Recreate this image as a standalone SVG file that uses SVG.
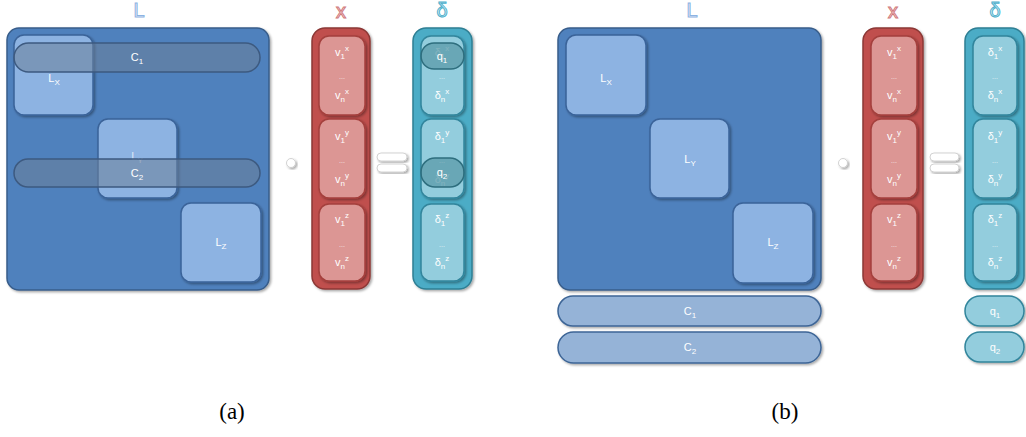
<svg xmlns="http://www.w3.org/2000/svg" width="1026" height="437" viewBox="0 0 1026 437">
<defs>
<filter id="sh" x="-20%" y="-20%" width="140%" height="140%"><feDropShadow dx="1.5" dy="1.5" stdDeviation="1" flood-color="#000" flood-opacity="0.35"/></filter>
<style>
.big{fill:#4f81bd;stroke:#385d8a;stroke-width:1.5;filter:url(#sh)}
.lb{fill:#8db3e2;stroke:#3a6399;stroke-width:1.5;filter:url(#sh)}
.cov{fill:#6b7f99;fill-opacity:0.55;stroke:#3d5a80;stroke-width:1.5}
.cb{fill:#95b3d7;stroke:#3d6596;stroke-width:1.5;filter:url(#sh)}
.rout{fill:#c0504d;stroke:#8c3836;stroke-width:1.5;filter:url(#sh)}
.rin{fill:#dc9694;stroke:#a43f3c;stroke-width:1.5;filter:url(#sh)}
.bout{fill:#4bacc6;stroke:#2f7f94;stroke-width:1.5;filter:url(#sh)}
.bin{fill:#93cddd;stroke:#31859c;stroke-width:1.5;filter:url(#sh)}
.qov{fill:#4d8d9c;fill-opacity:0.6;stroke:#2e6e7e;stroke-width:1.5}
.qb{fill:#93cddd;stroke:#31859c;stroke-width:1.5;filter:url(#sh)}
.t{font-family:"Liberation Sans",Arial,sans-serif;font-size:11px;fill:#ffffff;text-anchor:middle}
.s{font-size:8px}
.d{font-family:"Liberation Sans",Arial,sans-serif;font-size:7px;fill:#ffffff;fill-opacity:0.8;text-anchor:middle}
.ttl{font-family:"Liberation Sans",Arial,sans-serif;font-size:20px;stroke-width:1;text-anchor:middle}
.op{fill:#ffffff;stroke:#c8c8c8;stroke-width:0.8;filter:url(#sh)}
.cap{font-family:"Liberation Serif","Times New Roman",serif;font-size:23px;fill:#000;text-anchor:middle}
</style>
</defs>
<rect width="1026" height="437" fill="#ffffff"/>

<!-- Panel (a) -->
<g id="a-titles">
<text class="ttl" x="139" y="17" fill="#eaf1fa" stroke="#8db3e2">L</text>
<text class="ttl" x="341" y="18" fill="#fbeeee" stroke="#d0787a">x</text>
<text class="ttl" x="442" y="17" fill="#e8f6fa" stroke="#4fb0cc">δ</text>
</g>
<g id="a-L">
<rect class="big" x="7" y="28" width="262" height="262" rx="12"/>
<rect class="lb" x="14" y="35" width="79" height="80" rx="10"/>
<rect class="lb" x="98" y="119" width="79" height="79" rx="10"/>
<rect class="lb" x="181" y="203" width="80" height="79" rx="10"/>
<text class="t" x="54" y="82">L<tspan class="s" dy="3">X</tspan></text>
<text class="t" x="137" y="160" fill-opacity="0.7">L<tspan class="s" dy="3">Y</tspan></text>
<text class="t" x="221" y="246">L<tspan class="s" dy="3">Z</tspan></text>
</g>
<g id="a-C1">
<rect class="cov" x="14" y="43" width="246" height="29" rx="14.5"/>
<text class="t" x="137" y="61">C<tspan class="s" dy="3">1</tspan></text>
</g>
<g id="a-C2">
<rect class="cov" x="14" y="159" width="246" height="28" rx="14"/>
<text class="t" x="137" y="177">C<tspan class="s" dy="3">2</tspan></text>
</g>
<g id="a-dot"><circle class="op" cx="291" cy="163" r="4.5"/></g>
<g id="a-x">
<rect class="rout" x="312" y="28" width="58" height="261" rx="13"/>
<rect class="rin" x="319" y="36" width="46" height="79" rx="10"/>
<rect class="rin" x="319" y="119" width="46" height="79" rx="10"/>
<rect class="rin" x="319" y="204" width="46" height="77" rx="10"/>
<text class="t" x="342" y="56">v<tspan class="s" dy="3">1</tspan><tspan class="s" dy="-8">x</tspan></text>
<text class="d" x="342" y="79">...</text>
<text class="t" x="342" y="99">v<tspan class="s" dy="3">n</tspan><tspan class="s" dy="-8">x</tspan></text>
<text class="t" x="342" y="140">v<tspan class="s" dy="3">1</tspan><tspan class="s" dy="-8">y</tspan></text>
<text class="d" x="342" y="163">...</text>
<text class="t" x="342" y="183">v<tspan class="s" dy="3">n</tspan><tspan class="s" dy="-8">y</tspan></text>
<text class="t" x="342" y="223">v<tspan class="s" dy="3">1</tspan><tspan class="s" dy="-8">z</tspan></text>
<text class="d" x="342" y="247">...</text>
<text class="t" x="342" y="266">v<tspan class="s" dy="3">n</tspan><tspan class="s" dy="-8">z</tspan></text>
</g>
<g id="a-eq">
<rect class="op" x="377" y="153" width="30" height="8" rx="4"/>
<rect class="op" x="377" y="164" width="30" height="8" rx="4"/>
</g>
<g id="a-delta">
<rect class="bout" x="413" y="28" width="59" height="261" rx="13"/>
<rect class="bin" x="421" y="36" width="43" height="79" rx="10"/>
<rect class="bin" x="421" y="119" width="43" height="79" rx="10"/>
<rect class="bin" x="421" y="204" width="43" height="77" rx="10"/>
<text class="t" x="442" y="56" fill-opacity="0.6">δ<tspan class="s" dy="3">1</tspan><tspan class="s" dy="-8">x</tspan></text>
<text class="d" x="442" y="79">...</text>
<text class="t" x="442" y="99">δ<tspan class="s" dy="3">n</tspan><tspan class="s" dy="-8">x</tspan></text>
<text class="t" x="442" y="140">δ<tspan class="s" dy="3">1</tspan><tspan class="s" dy="-8">y</tspan></text>
<text class="d" x="442" y="163">...</text>
<text class="t" x="442" y="183" fill-opacity="0.6">δ<tspan class="s" dy="3">n</tspan><tspan class="s" dy="-8">y</tspan></text>
<text class="t" x="442" y="223">δ<tspan class="s" dy="3">1</tspan><tspan class="s" dy="-8">z</tspan></text>
<text class="d" x="442" y="247">...</text>
<text class="t" x="442" y="266">δ<tspan class="s" dy="3">n</tspan><tspan class="s" dy="-8">z</tspan></text>
</g>
<g id="a-q1">
<rect class="qov" x="421" y="43" width="43" height="26" rx="13"/>
<text class="t" x="442" y="60">q<tspan class="s" dy="3">1</tspan></text>
</g>
<g id="a-q2">
<rect class="qov" x="421" y="158" width="43" height="29" rx="14"/>
<text class="t" x="442" y="176">q<tspan class="s" dy="3">2</tspan></text>
</g>

<!-- Panel (b) -->
<g id="b-titles">
<text class="ttl" x="692" y="17" fill="#eaf1fa" stroke="#8db3e2">L</text>
<text class="ttl" x="893" y="18" fill="#fbeeee" stroke="#d0787a">x</text>
<text class="ttl" x="995" y="17" fill="#e8f6fa" stroke="#4fb0cc">δ</text>
</g>
<g id="b-L">
<rect class="big" x="558" y="28" width="263" height="262" rx="12"/>
<rect class="lb" x="566" y="35" width="80" height="80" rx="10"/>
<rect class="lb" x="650" y="119" width="79" height="79" rx="10"/>
<rect class="lb" x="733" y="203" width="80" height="80" rx="10"/>
<text class="t" x="606" y="82">L<tspan class="s" dy="3">X</tspan></text>
<text class="t" x="690" y="163">L<tspan class="s" dy="3">Y</tspan></text>
<text class="t" x="773" y="246">L<tspan class="s" dy="3">Z</tspan></text>
</g>
<g id="b-C1">
<rect class="cb" x="558" y="296" width="263" height="30" rx="15"/>
<text class="t" x="690" y="315">C<tspan class="s" dy="3">1</tspan></text>
</g>
<g id="b-C2">
<rect class="cb" x="558" y="332" width="263" height="31" rx="15.5"/>
<text class="t" x="690" y="351">C<tspan class="s" dy="3">2</tspan></text>
</g>
<g id="b-dot"><circle class="op" cx="843" cy="163" r="4.5"/></g>
<g id="b-x">
<rect class="rout" x="863" y="28" width="60" height="261" rx="13"/>
<rect class="rin" x="871" y="36" width="46" height="79" rx="10"/>
<rect class="rin" x="871" y="119" width="46" height="79" rx="10"/>
<rect class="rin" x="871" y="204" width="46" height="77" rx="10"/>
<text class="t" x="894" y="56">v<tspan class="s" dy="3">1</tspan><tspan class="s" dy="-8">x</tspan></text>
<text class="d" x="894" y="79">...</text>
<text class="t" x="894" y="99">v<tspan class="s" dy="3">n</tspan><tspan class="s" dy="-8">x</tspan></text>
<text class="t" x="894" y="140">v<tspan class="s" dy="3">1</tspan><tspan class="s" dy="-8">y</tspan></text>
<text class="d" x="894" y="163">...</text>
<text class="t" x="894" y="183">v<tspan class="s" dy="3">n</tspan><tspan class="s" dy="-8">y</tspan></text>
<text class="t" x="894" y="223">v<tspan class="s" dy="3">1</tspan><tspan class="s" dy="-8">z</tspan></text>
<text class="d" x="894" y="247">...</text>
<text class="t" x="894" y="266">v<tspan class="s" dy="3">n</tspan><tspan class="s" dy="-8">z</tspan></text>
</g>
<g id="b-eq">
<rect class="op" x="930" y="153" width="29" height="8" rx="4"/>
<rect class="op" x="930" y="164" width="29" height="8" rx="4"/>
</g>
<g id="b-delta">
<rect class="bout" x="965" y="28" width="59" height="261" rx="13"/>
<rect class="bin" x="973" y="36" width="44" height="79" rx="10"/>
<rect class="bin" x="973" y="119" width="44" height="79" rx="10"/>
<rect class="bin" x="973" y="204" width="44" height="77" rx="10"/>
<text class="t" x="995" y="56">δ<tspan class="s" dy="3">1</tspan><tspan class="s" dy="-8">x</tspan></text>
<text class="d" x="995" y="79">...</text>
<text class="t" x="995" y="99">δ<tspan class="s" dy="3">n</tspan><tspan class="s" dy="-8">x</tspan></text>
<text class="t" x="995" y="140">δ<tspan class="s" dy="3">1</tspan><tspan class="s" dy="-8">y</tspan></text>
<text class="d" x="995" y="163">...</text>
<text class="t" x="995" y="183">δ<tspan class="s" dy="3">n</tspan><tspan class="s" dy="-8">y</tspan></text>
<text class="t" x="995" y="223">δ<tspan class="s" dy="3">1</tspan><tspan class="s" dy="-8">z</tspan></text>
<text class="d" x="995" y="247">...</text>
<text class="t" x="995" y="266">δ<tspan class="s" dy="3">n</tspan><tspan class="s" dy="-8">z</tspan></text>
</g>
<g id="b-q1">
<rect class="qb" x="965" y="296" width="59" height="30" rx="15"/>
<text class="t" x="995" y="315">q<tspan class="s" dy="3">1</tspan></text>
</g>
<g id="b-q2">
<rect class="qb" x="965" y="332" width="59" height="30" rx="15"/>
<text class="t" x="995" y="351">q<tspan class="s" dy="3">2</tspan></text>
</g>

<g id="captions">
<text class="cap" x="232" y="419">(a)</text>
<text class="cap" x="785" y="419">(b)</text>
</g>
<g id="connectors"/>
</svg>
